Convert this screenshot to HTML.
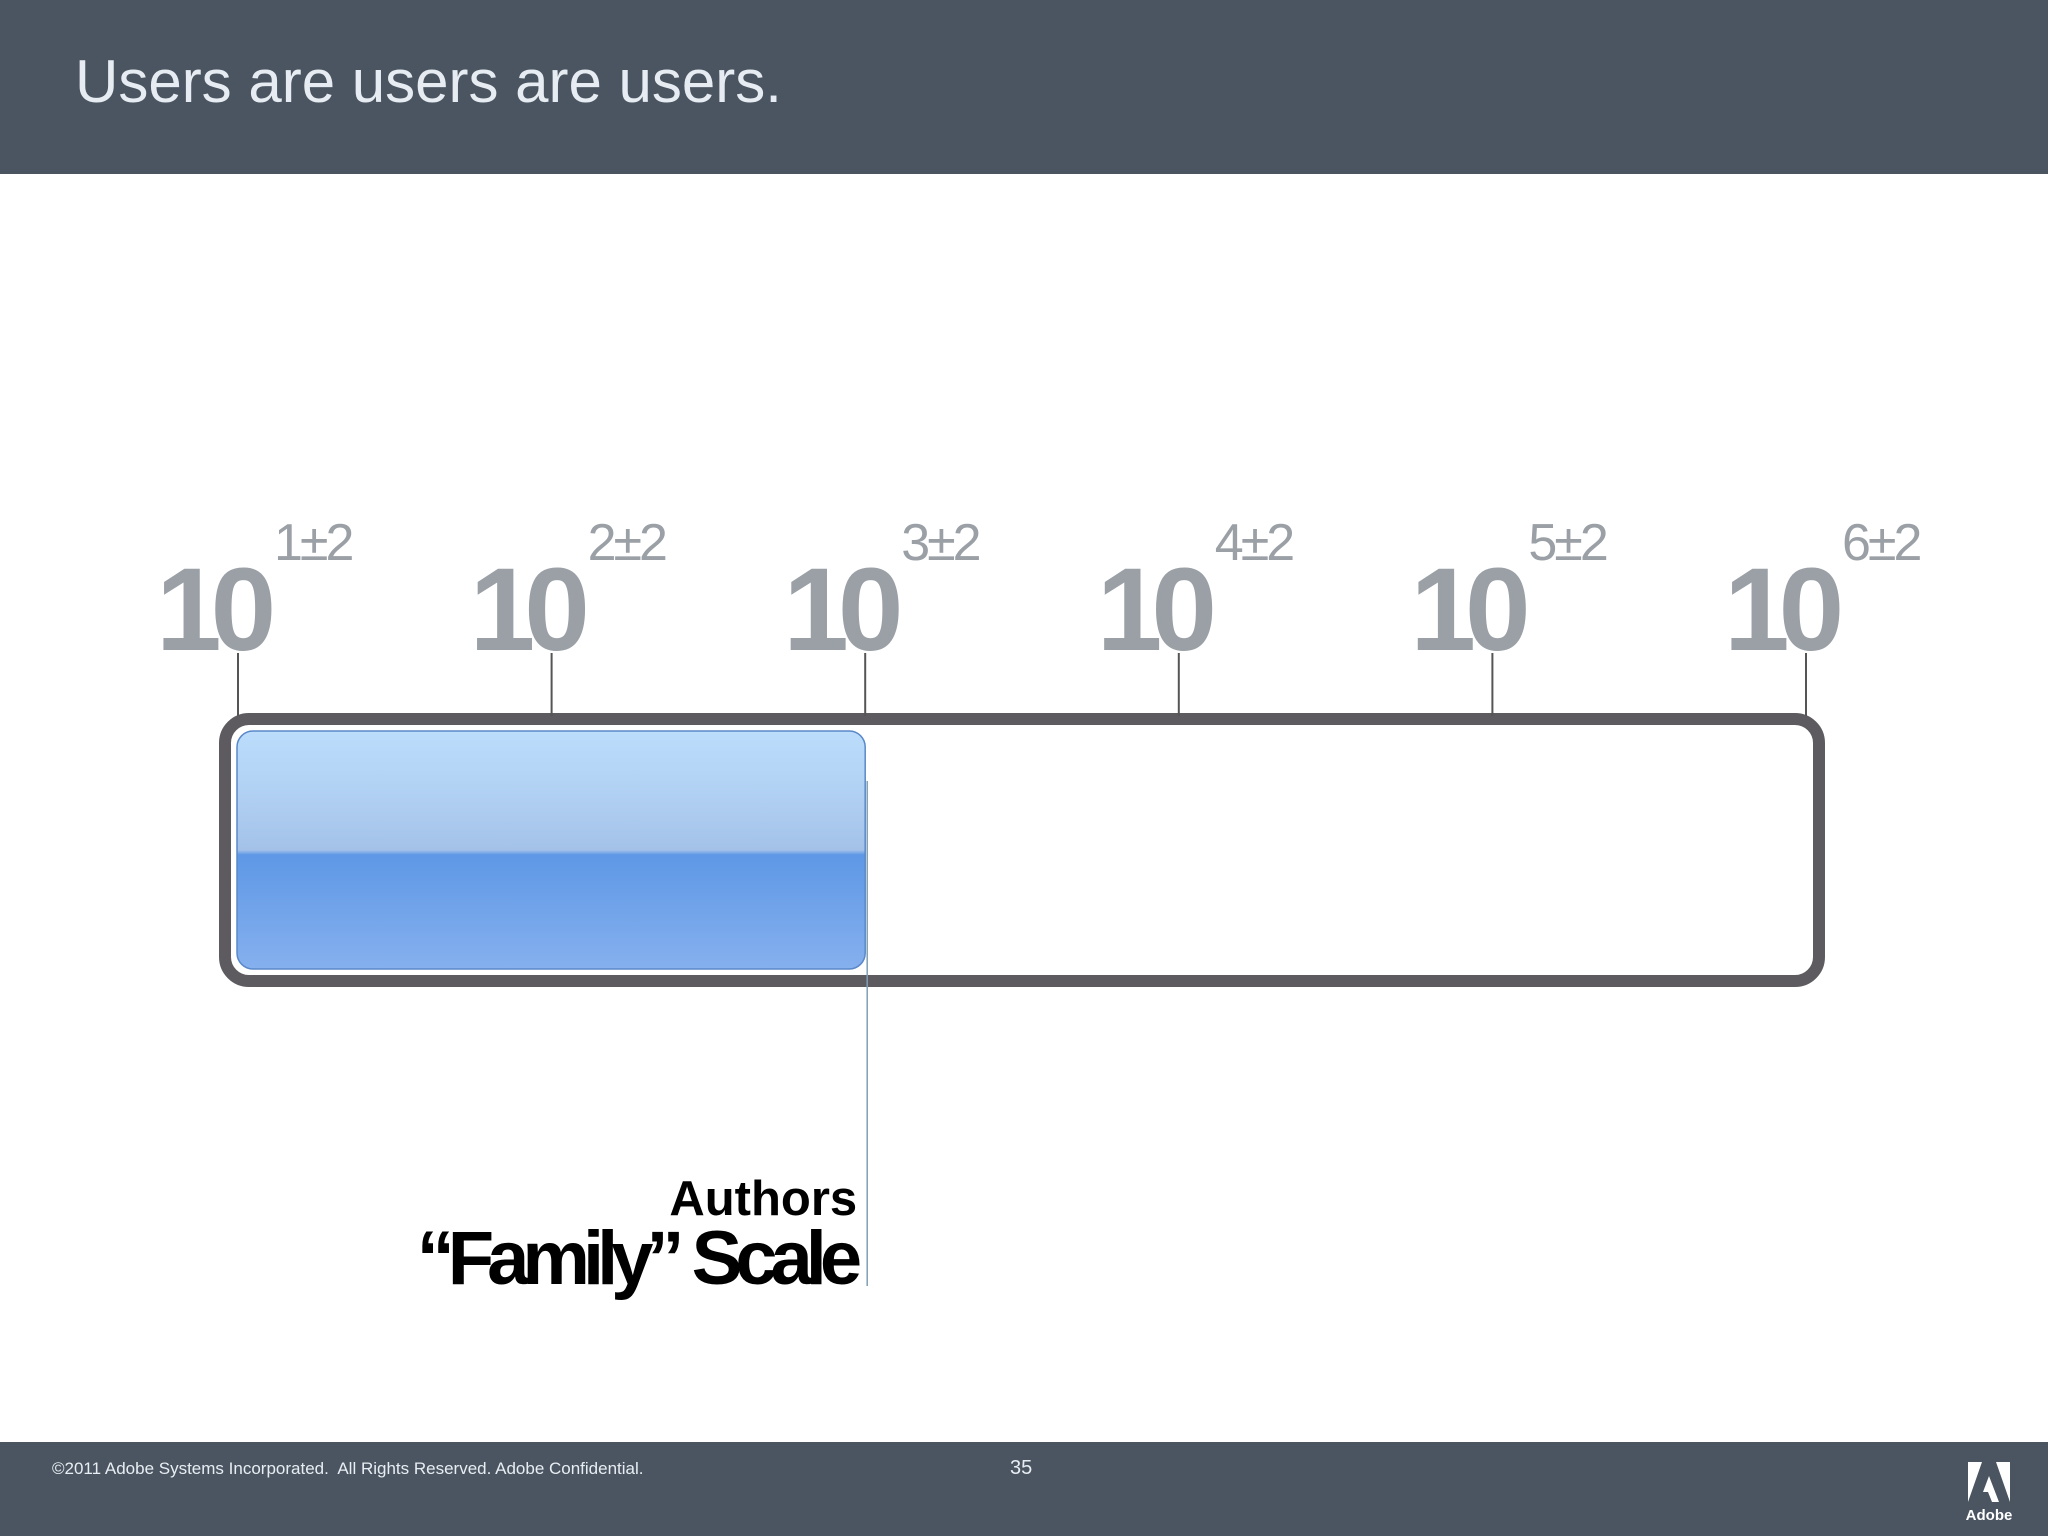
<!DOCTYPE html>
<html><head><meta charset="utf-8">
<style>
html,body{margin:0;padding:0;}
body{width:2048px;height:1536px;position:relative;background:#fff;overflow:hidden;font-family:"Liberation Sans","DejaVu Sans",sans-serif;}
#header{position:absolute;left:0;top:0;width:2048px;height:174px;background:#4a5561;}
#title{position:absolute;left:75px;top:47px;font-size:60px;color:#e6ecf2;letter-spacing:0px;}
#footer{position:absolute;left:0;top:1442px;width:2048px;height:94px;background:#4a5561;}
#copy{position:absolute;left:52px;top:17px;font-size:17px;color:#e8edf2;}
#pnum{position:absolute;left:1010px;top:15px;font-size:20px;color:#e8edf2;}
</style></head><body>
<div id="header"><div id="title">Users are users are users.</div></div>
<svg id="chart" width="2048" height="1536" style="position:absolute;left:0;top:0">
<defs>
<linearGradient id="bg" x1="0" y1="0" x2="0" y2="1">
<stop offset="0" stop-color="#bcdcfc"/><stop offset="0.2" stop-color="#b4d4f6"/>
<stop offset="0.5" stop-color="#a4c2e8"/><stop offset="0.52" stop-color="#5e98e6"/>
<stop offset="1" stop-color="#86b0ee"/></linearGradient>
</defs>
<g id="g"></g>
</svg>
<div id="footer">
<div id="copy">©2011 Adobe Systems Incorporated.&nbsp; All Rights Reserved. Adobe Confidential.</div>
<div id="pnum">35</div>
<svg style="position:absolute;left:1966px;top:18px" width="48" height="64">
<polygon points="2,2 16,2 2,42" fill="#fff"/><polygon points="30,2 44,2 44,42" fill="#fff"/><polygon points="23,16 33,42 26,42 22,32 17,32" fill="#fff"/>
<text x="23" y="60" font-size="15" font-weight="bold" fill="#fff" text-anchor="middle" font-family="Liberation Sans">Adobe</text></svg>
</div>
<script>
const exponents=[1,2,3,4,5,6];
const tickLabels=["1±2","2±2","3±2","4±2","5±2","6±2"];
const filledExponent=3;
const ns="http://www.w3.org/2000/svg";
const g=document.getElementById('g');
const x0=238,x1=1806;
function xs(e){return x0+(e-exponents[0])*(x1-x0)/(exponents[exponents.length-1]-exponents[0]);}
function mk(t,a){const el=document.createElementNS(ns,t);for(const k in a)el.setAttribute(k,a[k]);g.appendChild(el);return el;}
let frame=mk('rect',{x:225,y:719,width:1594,height:262,rx:24,fill:'#fff',stroke:'#5d5b5f','stroke-width':12});


let fill=mk('rect',{x:237,y:731,width:xs(filledExponent)-237,height:238,rx:16,fill:'url(#bg)',stroke:'#5a88c8','stroke-width':1.5});


exponents.forEach((e,i)=>{
 const x=xs(e);
 let t=mk('line',{x1:x,y1:653,x2:x,y2:716,stroke:'#555','stroke-width':2});
 
 
 let b=mk('text',{x:x-82,y:650,'font-size':118,'font-weight':'bold',fill:'#9aa0a6','letter-spacing':-11});
 b.textContent='10';
 
 
 let s=mk('text',{x:x+36,y:560,'font-size':52,fill:'#9aa0a6','letter-spacing':-3});
 s.textContent=tickLabels[i];
 
 
});
const mx=xs(filledExponent)+2;
let ml=mk('line',{x1:mx,y1:781,x2:mx,y2:1286,stroke:'#7f9fb5','stroke-width':1.5});


let a=mk('text',{x:mx-10,y:1215,'font-size':49,'font-weight':'bold','text-anchor':'end',fill:'#000'});
a.textContent='Authors';


let f=mk('text',{x:mx-12,y:1284,'font-size':76,'font-weight':'bold','text-anchor':'end',fill:'#000','letter-spacing':-7});
f.textContent='“Family” Scale';


</script>
</body></html>
